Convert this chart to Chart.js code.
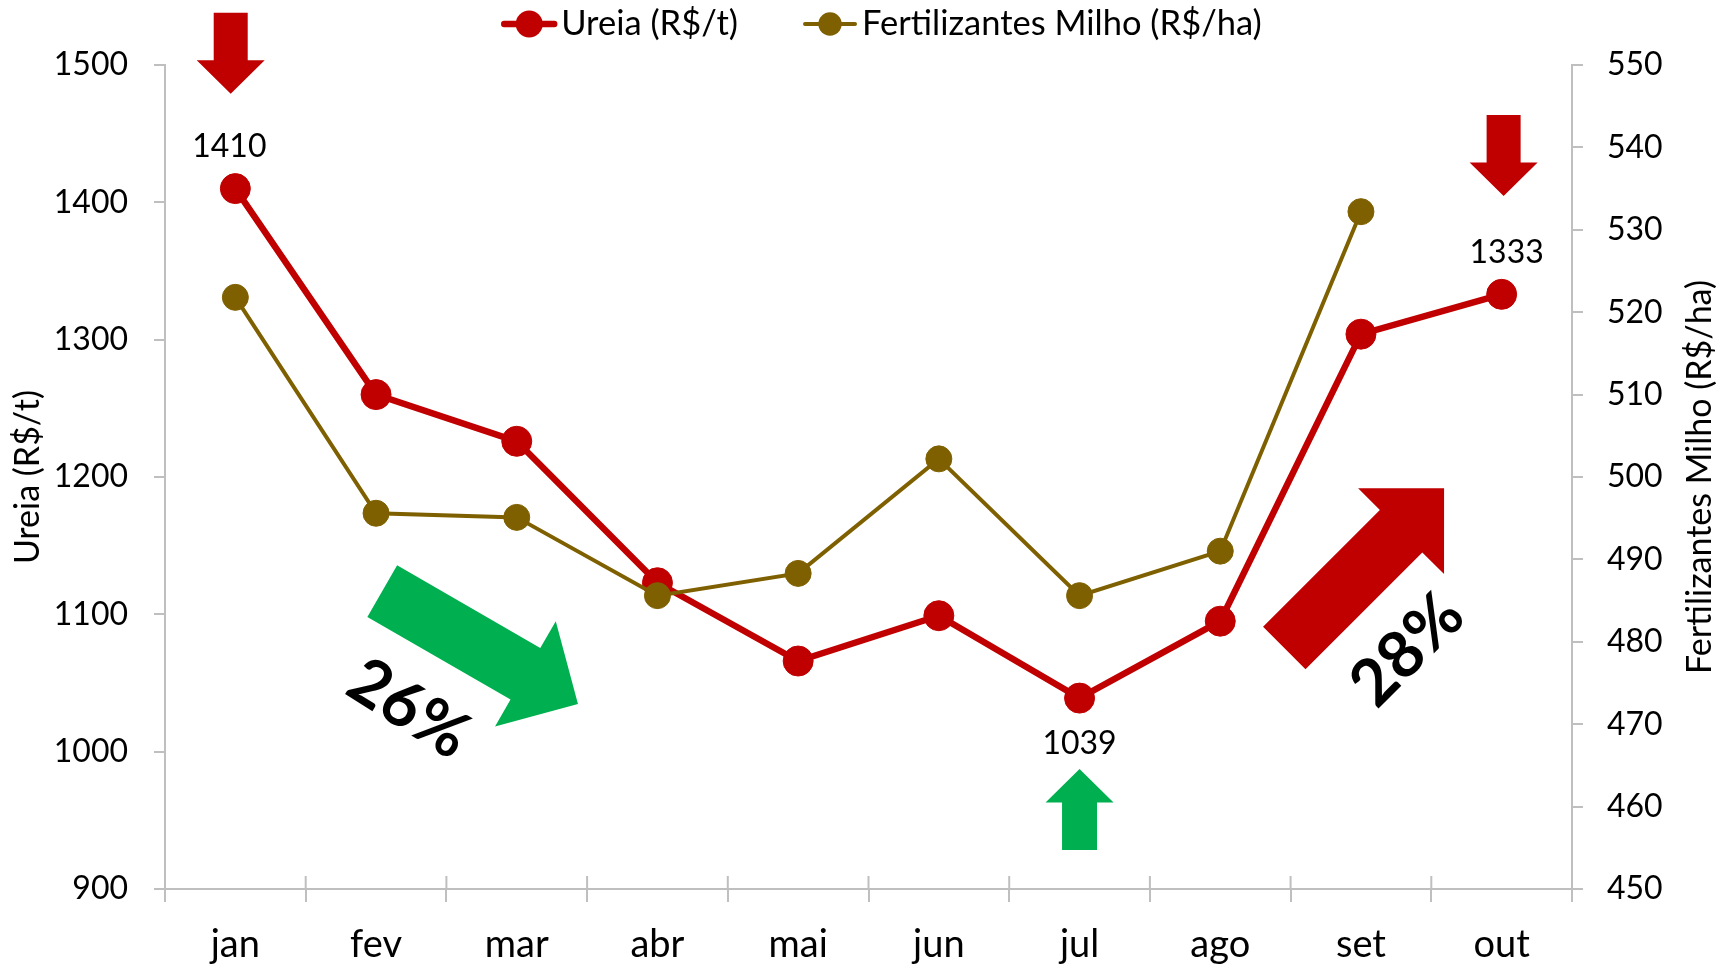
<!DOCTYPE html>
<html>
<head>
<meta charset="utf-8">
<script src="https://cdn.jsdelivr.net/npm/chart.js@4.4.1/dist/chart.umd.min.js"></script>
<style>
  html, body { margin: 0; padding: 0; background: #fff; }
</style>
</head>
<body>
<canvas id="chart" width="1727" height="965"></canvas>
<script>
// Chart data
const months = ['jan', 'fev', 'mar', 'abr', 'mai', 'jun', 'jul', 'ago', 'set', 'out'];
const ureia = [1410, 1260, 1226, 1123, 1066, 1099, 1039, 1095, 1304, 1333];
const fertMilho = [521.8, 495.6, 495.1, 485.6, 488.3, 502.2, 485.6, 491.0, 532.2, null];
const leftTicks = [900, 1000, 1100, 1200, 1300, 1400, 1500];
const rightTicks = [450, 460, 470, 480, 490, 500, 510, 520, 530, 540, 550];
// which Ureia points get a value label, and on which side
const labeledPoints = [0, 6, 9];
const labelSides = ['above', 'below', 'above'];
const changes = ['26%', '28%'];

const RED = '#C00000';
const OLIVE = '#7F6000';
const GREEN = '#00B050';
const GRID = '#BFBFBF';
const FONT = 'Lato, "Open Sans", sans-serif';

Chart.defaults.font.family = FONT;
Chart.defaults.color = '#000';

// helpers: place things by category index / left axis value
function catX(chart, c) {
    const x = chart.scales.x;
    const p0 = x.getPixelForValue(0);
    return p0 + c * (x.getPixelForValue(1) - p0);
}

function drawBlockArrow(ctx, x, y, a) {
    const L = a.len, hl = a.headLen, sw = a.shaft / 2, hw = a.head / 2;
    ctx.save();
    ctx.translate(x, y);
    ctx.rotate(a.angle * Math.PI / 180);
    ctx.fillStyle = a.color;
    ctx.beginPath();
    ctx.moveTo(0, -sw);
    ctx.lineTo(L - hl, -sw);
    ctx.lineTo(L - hl, -hw);
    ctx.lineTo(L, 0);
    ctx.lineTo(L - hl, hw);
    ctx.lineTo(L - hl, sw);
    ctx.lineTo(0, sw);
    ctx.closePath();
    ctx.fill();
    ctx.restore();
}

// arrows: tail position in (category, left-axis value), angle in degrees
const arrows = [
    { cat: -0.033, val: 1538, angle: 90, len: 81, shaft: 34, head: 68, headLen: 33.5, color: RED },
    { cat: 9.014, val: 1463.6, angle: 90, len: 81, shaft: 34, head: 68, headLen: 33.5, color: RED },
    { cat: 6, val: 928.4, angle: -90, len: 81, shaft: 35, head: 68, headLen: 33.5, color: GREEN },
    { cat: 1.044, val: 1116.9, angle: 30, len: 226, shaft: 59.5, head: 121.5, headLen: 60.7, color: GREEN },
    { cat: 7.455, val: 1075.5, angle: -45, len: 226, shaft: 60, head: 121.5, headLen: 60.8, color: RED }
];
const pctNotes = [
    { text: changes[0], cat: 1.232, val: 1031, angle: 32 },
    { text: changes[1], cat: 8.331, val: 1074, angle: -45 }
];
const labelNudge = [-6, 0, 5];

const annotations = {
    id: 'annotations',
    afterDatasetsDraw(chart) {
        const ctx = chart.ctx;
        const y = chart.scales.y;
        arrows.forEach(a => drawBlockArrow(ctx, catX(chart, a.cat), y.getPixelForValue(a.val), a));

        ctx.save();
        ctx.fillStyle = '#000';
        ctx.textAlign = 'center';
        ctx.textBaseline = 'middle';
        ctx.font = `bold 65px ${FONT}`;
        pctNotes.forEach(n => {
            ctx.save();
            ctx.translate(catX(chart, n.cat), y.getPixelForValue(n.val));
            ctx.rotate(n.angle * Math.PI / 180);
            ctx.fillText(n.text, 0, 0);
            ctx.restore();
        });

        // value labels on Ureia
        const meta = chart.getDatasetMeta(0);
        ctx.font = `32px ${FONT}`;
        labeledPoints.forEach((idx, k) => {
            const pt = meta.data[idx];
            const dy = labelSides[k] === 'above' ? -42 : 46;
            ctx.fillText(String(ureia[idx]), pt.x + labelNudge[k], pt.y + dy);
        });
        ctx.restore();
    }
};

// x axis tick marks cross the axis line; right title reads bottom-to-top
const axisExtras = {
    id: 'axisExtras',
    beforeDatasetsDraw(chart) {
        const { ctx, chartArea } = chart;
        ctx.save();
        ctx.strokeStyle = GRID;
        ctx.lineWidth = 2;
        for (let i = 0; i <= months.length; i++) {
            const px = catX(chart, i - 0.5);
            ctx.beginPath();
            ctx.moveTo(px, chartArea.bottom);
            ctx.lineTo(px, chartArea.bottom - 13);
            ctx.stroke();
        }
        const r = chart.scales.y1;
        ctx.translate(r.right - 27, (chartArea.top + chartArea.bottom) / 2);
        ctx.rotate(-Math.PI / 2);
        ctx.fillStyle = '#000';
        ctx.font = `34px ${FONT}`;
        ctx.textAlign = 'center';
        ctx.textBaseline = 'middle';
        ctx.fillText('Fertilizantes Milho (R$/ha)', 0, 0);
        ctx.restore();
    }
};

// legend with line + marker, like the spreadsheet one
const lineLegend = {
    id: 'lineLegend',
    afterDraw(chart) {
        const { ctx, chartArea } = chart;
        ctx.save();
        ctx.font = `34.5px ${FONT}`;
        const items = chart.data.datasets.map(ds => ({ ds, w: ctx.measureText(ds.label).width }));
        const markW = 56, markGap = 4, itemGap = 64;
        const total = items.reduce((s, it) => s + markW + markGap + it.w, 0) + itemGap * (items.length - 1);
        let x = (chartArea.left + chartArea.right) / 2 + 13 - total / 2;
        const y = 24;
        items.forEach(it => {
            ctx.strokeStyle = it.ds.borderColor;
            ctx.lineWidth = it.ds.borderWidth;
            ctx.lineCap = 'round';
            ctx.beginPath();
            ctx.moveTo(x + 3, y);
            ctx.lineTo(x + markW - 3, y);
            ctx.stroke();
            ctx.fillStyle = it.ds.borderColor;
            ctx.beginPath();
            ctx.arc(x + markW / 2, y, it.ds.pointRadius * 0.9, 0, Math.PI * 2);
            ctx.fill();
            ctx.fillStyle = '#000';
            ctx.textAlign = 'left';
            ctx.textBaseline = 'middle';
            ctx.fillText(it.ds.label, x + markW + markGap, y);
            x += markW + markGap + it.w + itemGap;
        });
        ctx.restore();
    }
};

new Chart(document.getElementById('chart'), {
    type: 'line',
    data: {
        labels: months,
        datasets: [{
            label: 'Ureia (R$/t)',
            data: ureia,
            yAxisID: 'y',
            borderColor: RED,
            backgroundColor: RED,
            borderWidth: 6.5,
            pointRadius: 15,
            pointBackgroundColor: RED,
            pointBorderColor: RED,
            pointBorderWidth: 1,
            tension: 0,
            order: 1
        }, {
            label: 'Fertilizantes Milho (R$/ha)',
            data: fertMilho,
            yAxisID: 'y1',
            borderColor: OLIVE,
            backgroundColor: OLIVE,
            borderWidth: 4,
            pointRadius: 13,
            pointBackgroundColor: OLIVE,
            pointBorderColor: OLIVE,
            pointBorderWidth: 1,
            tension: 0,
            order: 0
        }]
    },
    options: {
        responsive: false,
        animation: false,
        layout: { padding: { top: 65, left: 0, right: 0, bottom: 0 } },
        plugins: {
            legend: { display: false },
            tooltip: { enabled: false }
        },
        scales: {
            x: {
                offset: true,
                grid: { offset: true, drawOnChartArea: false, tickLength: 13, color: GRID, lineWidth: 2 },
                border: { color: GRID, width: 2 },
                ticks: { font: { size: 38 }, color: '#000', padding: 20, maxRotation: 0, autoSkip: false },
                afterFit(s) { s.height = 76; }
            },
            y: {
                position: 'left',
                min: 900,
                max: 1500,
                afterBuildTicks(s) { s.ticks = leftTicks.map(v => ({ value: v })); },
                ticks: { font: { size: 32 }, color: '#000', padding: 26, callback: v => String(v) },
                grid: { drawOnChartArea: false, tickLength: 11, color: GRID, lineWidth: 2 },
                border: { color: GRID, width: 2 },
                title: { display: true, text: 'Ureia (R$/t)', font: { size: 34 }, color: '#000', padding: { top: 7.5, bottom: 0 } },
                afterFit(s) { s.width = 165; }
            },
            y1: {
                position: 'right',
                min: 450,
                max: 550,
                afterBuildTicks(s) { s.ticks = rightTicks.map(v => ({ value: v })); },
                ticks: { font: { size: 32 }, color: '#000', padding: 24, callback: v => String(v) },
                grid: { drawOnChartArea: false, tickLength: 11, color: GRID, lineWidth: 2 },
                border: { color: GRID, width: 2 },
                afterFit(s) { s.width = 155; }
            }
        }
    },
    plugins: [axisExtras, annotations, lineLegend]
});
</script>
</body>
</html>
